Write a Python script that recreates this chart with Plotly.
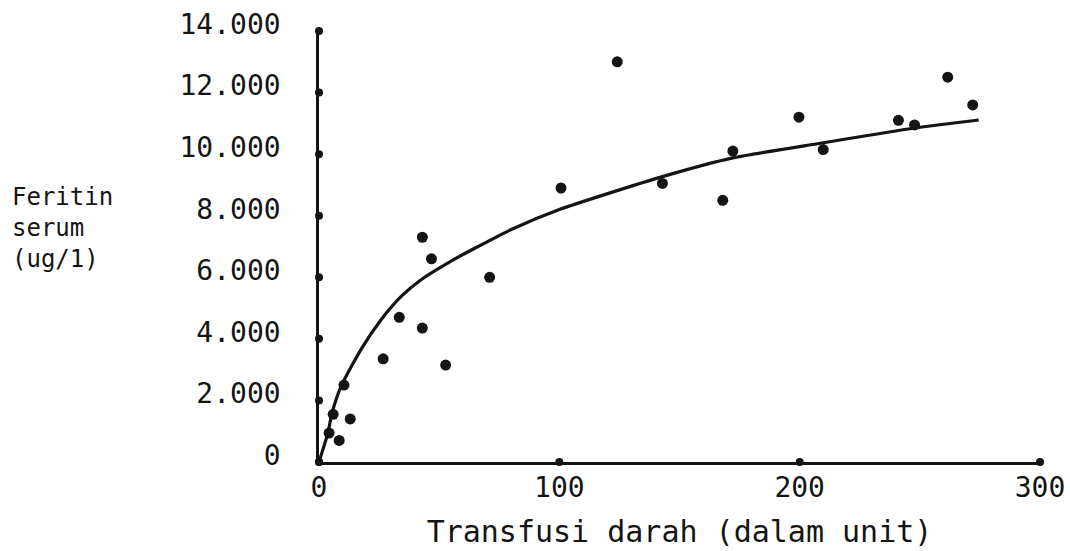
import plotly.graph_objects as go

# Scatter data: blood transfusion units vs serum ferritin
transfusion = [4.2, 5.9, 8.4, 10.4, 13.0, 26.7, 33.4, 43.0, 43.0, 46.8, 52.7, 71.0,
               100.7, 124.1, 142.9, 168.0, 172.2, 199.7, 209.8, 241.1, 247.8, 261.6, 272.0]
ferritin = [940, 1550, 700, 2500, 1400, 3350, 4700, 7300, 4350, 6600, 3150, 6000,
            8900, 13000, 9050, 8500, 10100, 11200, 10150, 11100, 10950, 12500, 11600]

# Fitted curve
curve_x = [0, 3.8, 5.4, 9.2, 17.5, 25.9, 34.2, 42.6, 53.9, 65.0, 80.0, 100.0,
           142.9, 172.2, 209.8, 247.8, 274.5]
curve_y = [0, 970, 1590, 2460, 3660, 4630, 5380, 5930, 6480, 6950, 7550, 8200,
           9270, 9880, 10370, 10850, 11110]

# Axis ticks
x_ticks = [0, 100, 200, 300]
x_tick_labels = ["0", "100", "200", "300"]
y_ticks = [0, 2000, 4000, 6000, 8000, 10000, 12000, 14000]
y_tick_labels = ["0", "2.000", "4.000", "6.000", "8.000", "10.000", "12.000", "14.000"]

INK = "#141414"
MONO = "DejaVu Sans Mono"
L, R, T, B = 319, 30, 31, 89
PW, PH = 1070 - L - R, 551 - T - B

fig = go.Figure()

# tick dots on the axes
fig.add_trace(go.Scatter(
    x=[0] * len(y_ticks), y=y_ticks, mode="markers",
    marker=dict(size=8, color=INK), cliponaxis=False, hoverinfo="skip", showlegend=False))
fig.add_trace(go.Scatter(
    x=x_ticks, y=[0] * len(x_ticks), mode="markers",
    marker=dict(size=8, color=INK), cliponaxis=False, hoverinfo="skip", showlegend=False))

fig.add_trace(go.Scatter(
    x=curve_x, y=curve_y, mode="lines",
    line=dict(color=INK, width=3.2, shape="spline", smoothing=0.6),
    cliponaxis=False, showlegend=False))

fig.add_trace(go.Scatter(
    x=transfusion, y=ferritin, mode="markers",
    marker=dict(size=11, color=INK), cliponaxis=False, showlegend=False))

fig.update_layout(
    width=1070, height=551,
    margin=dict(l=L, r=R, t=T, b=B),
    paper_bgcolor="white", plot_bgcolor="white",
    font=dict(family=MONO, color=INK),
    xaxis=dict(
        range=[0, 300], tickvals=x_ticks, ticktext=x_tick_labels, automargin=False,
        showgrid=False, zeroline=False, showline=True, linecolor=INK, linewidth=2.5,
        ticks="", tickfont=dict(size=28, family=MONO, color=INK), ticklabelstandoff=-1,
        title=dict(text="Transfusi darah (dalam unit)", font=dict(size=30, family=MONO, color=INK),
                   standoff=18),
    ),
    yaxis=dict(
        range=[0, 14000], tickvals=y_ticks, ticktext=y_tick_labels, automargin=False,
        showgrid=False, zeroline=False, showline=True, linecolor=INK, linewidth=2.5,
        ticks="", tickfont=dict(size=28, family=MONO, color=INK),
        ticklabelstandoff=30, ticklabelshift=-7,
    ),
    annotations=[dict(
        text="Feritin<br>serum<br>(ug/1)", xref="paper", yref="paper",
        x=-(L - 10) / PW, y=(551 - B - 181) / PH, xanchor="left", yanchor="top",
        align="left", showarrow=False, font=dict(size=24, family=MONO, color=INK),
    )],
)

fig.write_html(
    "out.html",
    config={"displayModeBar": False},
    post_script="document.body.style.margin='0';document.body.style.padding='0';",
)
